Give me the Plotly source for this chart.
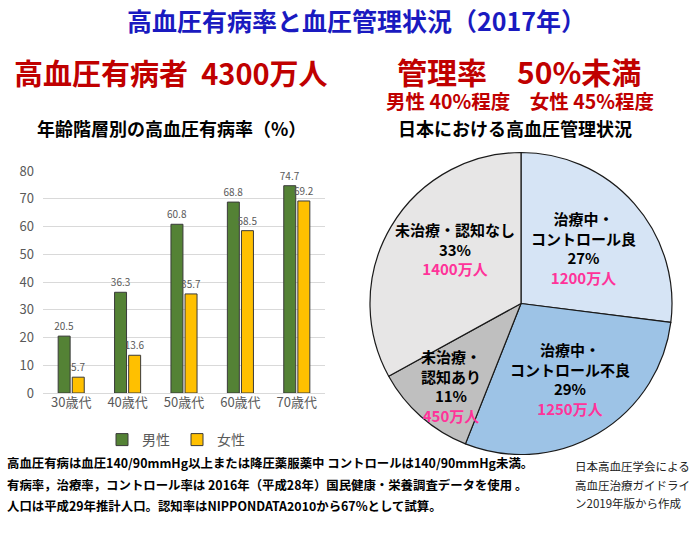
import plotly.graph_objects as go

W, H = 700, 540

# ---- data ----
age_groups = ["30歳代", "40歳代", "50歳代", "60歳代", "70歳代"]
male_rates = [20.5, 36.3, 60.8, 68.8, 74.7]
female_rates = [5.7, 13.6, 35.7, 58.5, 69.2]
y_ticks = [0, 10, 20, 30, 40, 50, 60, 70, 80]

pie_labels = ["治療中・コントロール良", "治療中・コントロール不良", "未治療・認知あり", "未治療・認知なし"]
pie_values = [27, 29, 11, 33]
pie_people = ["1200万人", "1250万人", "450万人", "1400万人"]
pie_colors = ["#D6E4F5", "#9DC3E6", "#BFBFBF", "#E7E6E6"]

FONT = "Noto Sans CJK JP"


def px(x):
    return x / W


def py(y):
    return 1 - y / H


fig = go.Figure()

fig.add_trace(go.Bar(
    x=age_groups, y=male_rates, name="男性",
    marker=dict(color="#548235", line=dict(color="#3A3A3A", width=1)),
    text=[f"{v}" for v in male_rates], textposition="outside", constraintext="none",
    textfont=dict(size=10, color="#595959", family=FONT),
    cliponaxis=False,
))
fig.add_trace(go.Bar(
    x=age_groups, y=female_rates, name="女性",
    marker=dict(color="#FFC000", line=dict(color="#3A3A3A", width=1)),
    text=[f"{v}" for v in female_rates], textposition="outside", constraintext="none",
    textfont=dict(size=10, color="#595959", family=FONT),
    cliponaxis=False,
))

fig.add_trace(go.Pie(
    labels=pie_labels, values=pie_values, sort=False,
    direction="clockwise", rotation=0,
    marker=dict(colors=pie_colors, line=dict(color="#1A1A1A", width=1.2)),
    textinfo="none", hoverinfo="label+percent", showlegend=False,
    automargin=False,
    domain=dict(x=[px(370), px(672)], y=[py(455), py(152)]),
))

fig.update_layout(
    width=W, height=H, autosize=False,
    margin=dict(l=0, r=0, t=0, b=0, pad=0, autoexpand=False),
    paper_bgcolor="white", plot_bgcolor="white",
    font=dict(family=FONT),
    barmode="group", bargap=0.5, bargroupgap=0.15,
    xaxis=dict(domain=[px(43), px(325)], showline=False, ticks="", automargin=False,
               tickfont=dict(size=13, color="#595959", family=FONT)),
    yaxis=dict(domain=[py(393), py(171)], range=[0, 80], tickvals=y_ticks, automargin=False,
               showgrid=True, gridcolor="#D9D9D9", gridwidth=1,
               zeroline=True, zerolinecolor="#D9D9D9", zerolinewidth=1,
               tickfont=dict(size=13, color="#595959", family=FONT),
               ticklabelstandoff=8),
    legend=dict(orientation="h", x=px(177), y=py(440), xanchor="center", yanchor="middle",
                font=dict(size=14, color="#595959", family=FONT),
                itemwidth=30, entrywidth=30, tracegroupgap=0),
)

anns = []


def txt(x, y, s, size, color="black", bold=True, xanchor="center"):
    anns.append(dict(x=px(x), y=py(y), xref="paper", yref="paper", text=(f"<b>{s}</b>" if bold else s),
                     showarrow=False, xanchor=xanchor, yanchor="middle",
                     font=dict(size=size, color=color, family=FONT)))


# headings
txt(356, 20, "高血圧有病率と血圧管理状況（2017年）", 25, "#1A1AC0")
txt(12, 72, "高血圧有病者&nbsp;&nbsp;4300万人", 29, "#C00000", xanchor="left")
txt(519, 71, "管理率　50%未満", 30, "#C00000")
txt(520, 101, "男性 40%程度　女性 45%程度", 19.5, "#C00000")
txt(171, 128, "年齢階層別の高血圧有病率（%）", 18)
txt(515, 128, "日本における高血圧管理状況", 18)

# pie labels (multi-line blocks)
PINK = "#FF3399"
pie_blocks = [
    (583, 248, ["治療中・", "コントロール良"], 0),
    (570, 379, ["治療中・", "コントロール不良"], 1),
    (451, 386, ["未治療・", "認知あり"], 2),
    (455, 249, ["未治療・認知なし"], 3),
]
for cx, cy, head, k in pie_blocks:
    lines = [f"<b>{h}</b>" for h in head]
    lines.append(f"<b>{pie_values[k]}%</b>")
    lines.append(f"<b><span style='color:{PINK}'>{pie_people[k]}</span></b>")
    anns.append(dict(x=px(cx), y=py(cy), xref="paper", yref="paper", text="<br>".join(lines),
                     showarrow=False, xanchor="center", yanchor="middle", align="center",
                     font=dict(size=15, color="black", family=FONT)))

# footnotes
notes = [
    "高血圧有病は血圧140/90mmHg以上または降圧薬服薬中 コントロールは140/90mmHg未満。",
    "有病率，治療率，コントロール率は 2016年（平成28年）国民健康・栄養調査データを使用 。",
    "人口は平成29年推計人口。認知率はNIPPONDATA2010から67%として試算。",
]
for i, s in enumerate(notes):
    txt(5, 463 + 21.5 * i, s, 12.4, "black", xanchor="left")

source = ["日本高血圧学会による", "高血圧治療ガイドライ", "ン2019年版から作成"]
for i, s in enumerate(source):
    txt(573, 466 + 18.5 * i, s, 11.5, "#222222", bold=False, xanchor="left")

fig.update_layout(annotations=anns)

fig.write_html("out.html")
